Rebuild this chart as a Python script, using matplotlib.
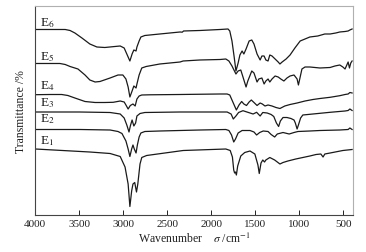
import matplotlib
matplotlib.use('Agg')
import matplotlib.pyplot as plt

plt.rcParams['font.family'] = ['Liberation Serif', 'DejaVu Serif']
plt.rcParams['mathtext.fontset'] = 'stix'

# FTIR spectra, wavenumber (cm-1) vs. offset depth (a.u., larger = lower on the chart)
wn6 = [4000, 3830, 3660, 3605, 3550, 3470, 3380, 3300, 3210, 3095, 3035, 2990, 2960, 2925, 2900,
       2880, 2855, 2845, 2820, 2800, 2755, 2585, 2355, 2330, 2315, 2130, 1900, 1810, 1790, 1765,
       1740, 1720, 1695, 1675, 1650, 1630, 1605, 1570, 1540, 1515, 1480, 1445, 1425, 1400, 1380,
       1355, 1335, 1310, 1275, 1240, 1220, 1195, 1150, 1105, 1050, 990, 935, 880, 790, 710, 650,
       585, 540, 480, 445, 425, 400]
t6 = [30.5, 30.5, 30.5, 31.5, 34, 39, 45, 48, 48.5, 47.5, 47, 49, 55, 62, 55,
      51, 52, 48, 42, 38, 36.5, 35, 33, 33.2, 32, 31.5, 30.5, 30, 32, 42,
      58, 72, 64, 56, 52, 55, 50, 42, 41, 45, 55, 61, 57, 57, 61,
      62, 56, 57, 60, 63, 65, 63, 60, 56, 49, 42, 40, 38, 37, 35, 35,
      34, 33, 32.5, 32, 31, 30]

wn5 = [4000, 3830, 3720, 3660, 3605, 3515, 3435, 3380, 3320, 3265, 3150, 3060, 3005, 2970, 2945,
       2925, 2900, 2880, 2855, 2845, 2820, 2790, 2740, 2585, 2355, 2320, 2130, 1900, 1835, 1800,
       1765, 1720, 1695, 1665, 1640, 1605, 1585, 1540, 1515, 1480, 1460, 1425, 1400, 1380, 1355,
       1335, 1310, 1275, 1240, 1210, 1175, 1140, 1105, 1060, 1025, 1010, 990, 970, 935, 880,
       765, 650, 595, 540, 505, 480, 460, 445, 430, 415, 400]
t5 = [64.5, 64.5, 64.5, 65.5, 67.5, 70, 76, 81, 83, 82.5, 79, 76, 76, 80, 88,
      98, 92, 87, 89, 85, 76, 69, 67.5, 65, 63, 62, 61, 60.5, 60, 62,
      67, 75, 72, 71, 78, 88, 82, 72, 74, 83, 80, 79, 85, 82, 80,
      83, 80, 77, 78, 80, 82, 79, 77, 76, 80, 86, 78, 70, 68, 68,
      69, 68.5, 67, 66, 68, 70, 66, 63, 69, 64, 62]

wn4 = [4000, 3830, 3700, 3630, 3550, 3435, 3320, 3210, 3115, 3035, 2990, 2970, 2945, 2920, 2890,
       2865, 2845, 2820, 2790, 2700, 2355, 1900, 1820, 1790, 1755, 1715, 1685, 1655, 1630, 1600,
       1570, 1545, 1515, 1480, 1445, 1420, 1390, 1355, 1310, 1265, 1220, 1165, 1105, 1025, 935,
       845, 765, 650, 540, 480, 445, 425, 400]
t4 = [95.7, 95.5, 95.5, 96.5, 99, 102.5, 103.5, 103.5, 103.3, 102, 103, 106, 110, 106.5, 105,
      107, 100, 97, 96, 95.8, 95.5, 95, 95, 96, 103, 111, 106, 102.5, 105, 106.5,
      103, 101, 103.5, 106.5, 104, 105, 107, 106, 107, 108.5, 109.5, 107, 105.5, 104, 102,
      100.5, 99.5, 98.3, 96.7, 95.5, 95, 93.5, 94]

wn3 = [4000, 3500, 3150, 3035, 2990, 2960, 2935, 2920, 2900, 2880, 2860, 2845, 2810, 2755, 2355,
       1820, 1775, 1750, 1720, 1690, 1640, 1595, 1560, 1525, 1485, 1445, 1415, 1365, 1320, 1290,
       1260, 1235, 1215, 1185, 1140, 1095, 1060, 1045, 1025, 1010, 985, 960, 845, 650, 480,
       445, 425, 400]
t3 = [113, 113, 113.5, 115, 119, 126, 133, 127, 121, 127, 124, 117, 114.5, 113.5, 113,
      113, 115, 120, 117, 113.5, 111.7, 113, 114, 115, 113.3, 117, 113.5, 114, 115.5, 117.5,
      124, 127.5, 122, 118.5, 118.5, 119.5, 121, 124, 130, 126, 119, 116, 115, 113.3, 112,
      111.5, 110, 111.5]

wn2 = [4000, 3490, 3150, 3060, 3015, 2970, 2945, 2925, 2905, 2890, 2875, 2855, 2840, 2820, 2800,
       2755, 2585, 2130, 1835, 1800, 1770, 1745, 1725, 1695, 1650, 1560, 1515, 1485, 1450, 1410,
       1355, 1320, 1280, 1250, 1185, 1115, 1060, 1015, 880, 765, 540, 445, 425, 400]
t2 = [130.5, 130.5, 131, 132.5, 134.5, 142, 150, 157.5, 150, 146, 150, 154, 146, 138, 134,
      132.5, 132, 131, 130.5, 131.5, 136, 143, 140, 134, 131.5, 131.5, 133, 136, 133.5, 132,
      132.5, 135.5, 138, 135, 133.5, 135, 133.5, 132.5, 132, 131.5, 131, 130.5, 129, 130.5]

wn1 = [4000, 3380, 3150, 3035, 2980, 2945, 2925, 2905, 2890, 2870, 2850, 2835, 2810, 2790, 2735,
       2320, 1835, 1785, 1760, 1745, 1735, 1725, 1715, 1700, 1665, 1620, 1560, 1505, 1470, 1455,
       1435, 1415, 1395, 1380, 1335, 1280, 1220, 1185, 1130, 1040, 880, 810, 755, 730, 710,
       650, 505, 400]
t1 = [150, 153, 154.5, 157.5, 168, 185, 207.5, 192, 185, 183.5, 193, 185, 165, 158.5, 156.5,
      151.5, 150, 151.5, 158, 171, 174, 173, 176, 167, 157, 153.5, 152, 155, 166, 174.5,
      164, 161, 163, 161, 158.5, 161, 165, 163.5, 162, 160, 157, 155.5, 155, 158, 155,
      154, 151.5, 150.5]

names = ['E$_6$', 'E$_5$', 'E$_4$', 'E$_3$', 'E$_2$', 'E$_1$']
label_y = [26, 60.5, 89.5, 106.5, 122.5, 144.5]
xticks = [4000, 3500, 3000, 2500, 2000, 1500, 1000, 500]

fig = plt.figure(figsize=(3.66, 2.53), dpi=100)
ax = fig.add_axes([0.0964, 0.1474, 0.8673, 0.8230])

for w, t in [(wn6, t6), (wn5, t5), (wn4, t4), (wn3, t3), (wn2, t2), (wn1, t1)]:
    ax.plot(w, t, color='#1a1a1a', lw=0.9)

for name, y in zip(names, label_y):
    ax.text(3945, y, name, fontsize=9.5, va='baseline', ha='left', color='#1a1a1a')

ax.set_xlim(4000, 393)
ax.set_ylim(215.7, 7.5)
ax.set_xticks(xticks)
ax.set_xticklabels([str(v) for v in xticks])
ax.set_yticks([])
ax.tick_params(axis='x', direction='in', length=3.5, width=0.7, labelsize=8, pad=3, colors='#222222')

for s in ['left', 'bottom']:
    ax.spines[s].set_color('#444444')
    ax.spines[s].set_linewidth(0.8)
for s in ['top', 'right']:
    ax.spines[s].set_color('#b0b0b0')
    ax.spines[s].set_linewidth(0.8)

ax.set_xlabel('Wavenumber    $\\sigma$ /cm$^{-1}$', fontsize=8.5, labelpad=2, color='#222222')
ax.set_ylabel('Transmittance /%', fontsize=8.5, labelpad=6, color='#222222')

fig.savefig('out.png', dpi=100)
